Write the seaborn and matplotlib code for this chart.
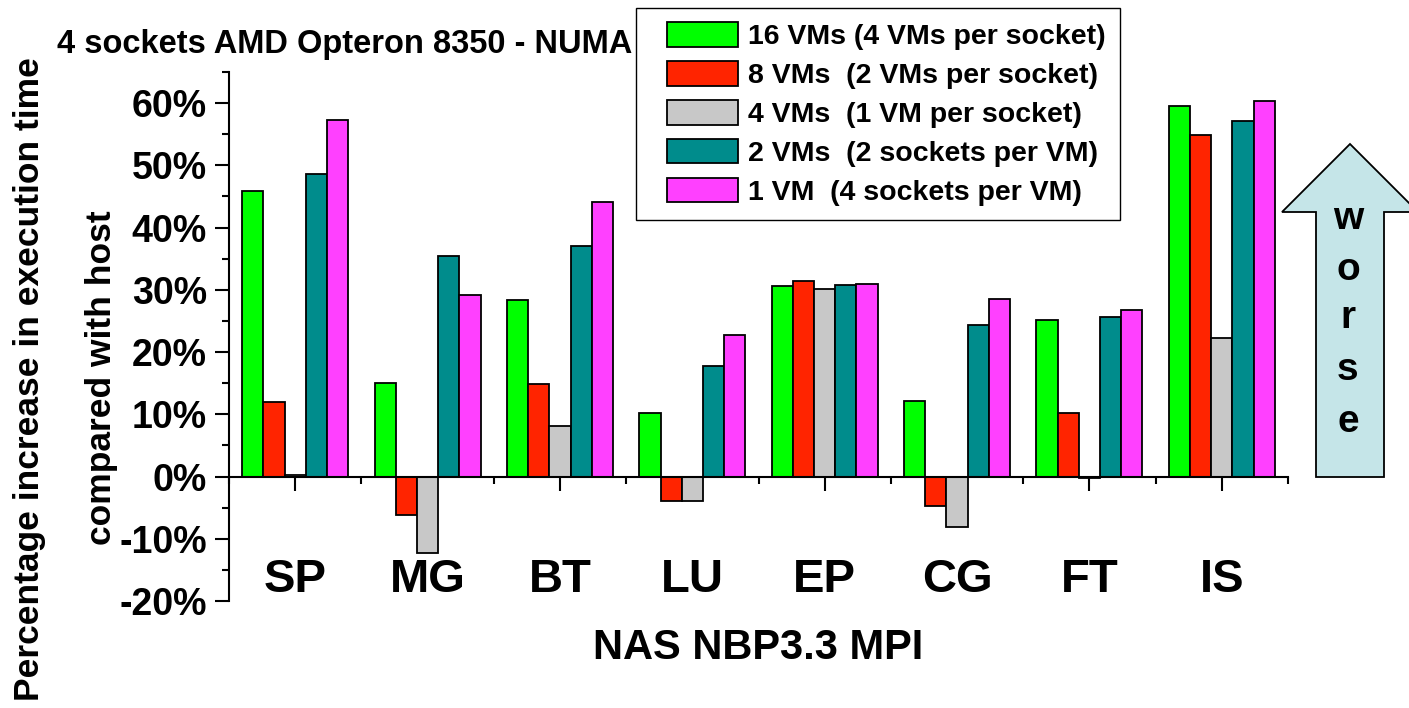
import matplotlib
matplotlib.use("Agg")
import matplotlib.pyplot as plt
import seaborn as sns
import pandas as pd
import numpy as np
from matplotlib.patches import Patch, Polygon, Rectangle
from matplotlib.legend_handler import HandlerPatch
from matplotlib.ticker import MultipleLocator, FuncFormatter

# ---------------- data ----------------
categories = ["SP", "MG", "BT", "LU", "EP", "CG", "FT", "IS"]
series_names = [
    "16 VMs (4 VMs per socket)",
    "8 VMs  (2 VMs per socket)",
    "4 VMs  (1 VM per socket)",
    "2 VMs  (2 sockets per VM)",
    "1 VM  (4 sockets per VM)",
]
vm16 = [45.8, 15.0, 28.3, 10.2, 30.6, 12.2, 25.2, 59.6]
vm8 = [12.0, -6.2, 14.9, -4.0, 31.4, -4.8, 10.2, 54.8]
vm4 = [0.3, -12.3, 8.1, -4.0, 30.2, -8.1, -0.2, 22.2]
vm2 = [48.6, 35.5, 37.1, 17.8, 30.8, 24.3, 25.7, 57.1]
vm1 = [57.3, 29.2, 44.1, 22.7, 31.0, 28.6, 26.8, 60.4]
colors = ["#00FF00", "#FF2400", "#C8C8C8", "#008C8C", "#FF40FF"]

rows = []
for name, vals in zip(series_names, [vm16, vm8, vm4, vm2, vm1]):
    for c, v in zip(categories, vals):
        rows.append({"bench": c, "config": name, "value": v})
df = pd.DataFrame(rows)

# ---------------- style ----------------
sns.set_theme(style="white")
plt.rcParams["font.family"] = ["Liberation Sans", "DejaVu Sans"]
plt.rcParams["font.weight"] = "bold"
for k in ["text.color", "axes.labelcolor", "xtick.color", "ytick.color"]:
    plt.rcParams[k] = "black"

W, H = 1409, 708
fig = plt.figure(figsize=(W / 100, H / 100), dpi=100)
ax = fig.add_axes([229 / W, 1 - 601 / H, 1059 / W, 529 / H])

sns.barplot(data=df, x="bench", y="value", hue="config", order=categories,
            hue_order=series_names, palette=colors, edgecolor="black",
            linewidth=1.3, width=0.8, saturation=1, legend=False, ax=ax)

ax.set_xlim(-0.5, len(categories) - 0.5)
ax.set_ylim(-20, 65)
ax.set_xlabel("")
ax.set_ylabel("")

# spines
for s in ["top", "right"]:
    ax.spines[s].set_visible(False)
ax.spines["bottom"].set_position(("data", 0))
for s in ["left", "bottom"]:
    ax.spines[s].set_color("black")
    ax.spines[s].set_linewidth(1.5)

# y ticks
ax.yaxis.set_major_locator(MultipleLocator(10))
ax.yaxis.set_minor_locator(MultipleLocator(5))
ax.yaxis.set_major_formatter(FuncFormatter(lambda v, p: f"{v:.0f}%"))
ax.tick_params(axis="y", which="major", direction="out", length=10, width=1.5,
               color="black", labelcolor="black", labelsize=27, pad=6, left=True)
ax.tick_params(axis="y", which="minor", direction="out", length=5, width=1.5,
               color="black", left=True)

# x ticks
ax.set_xticks(range(len(categories)))
ax.set_xticklabels(categories)
ax.set_xticks(np.arange(-0.5, len(categories), 1.0), minor=True)
ax.tick_params(axis="x", which="major", direction="out", length=10, width=1.5,
               color="black", labelcolor="black", labelsize=34, pad=49, bottom=True)
ax.tick_params(axis="x", which="minor", direction="out", length=5, width=1.5,
               color="black", bottom=True)
for lab in ax.get_xticklabels() + ax.get_yticklabels():
    lab.set_fontweight("bold")
ax.grid(False)

# texts
fig.text(57 / W, 1 - 45 / H, "4 sockets AMD Opteron 8350 - NUMA", fontsize=23.5,
         fontweight="bold", ha="left", va="center")
fig.text(30 / W, 1 - 379 / H, "Percentage increase in execution time", fontsize=25.5,
         fontweight="bold", rotation=90, ha="center", va="center")
fig.text(102 / W, 1 - 378 / H, "compared with host", fontsize=25.5,
         fontweight="bold", rotation=90, ha="center", va="center")
fig.text(758 / W, 1 - 648 / H, "NAS NBP3.3 MPI", fontsize=30,
         fontweight="bold", ha="center", va="center")


# legend with patches inset from the left edge
def inset_patch(legend, orig_handle, xdescent, ydescent, width, height, fontsize):
    extra = width * 17.0 / 88.0
    return Rectangle((-xdescent + extra, -ydescent), width - extra, height)


handles = [Patch(facecolor=c, edgecolor="black", linewidth=1.3, label=n)
           for c, n in zip(colors, series_names)]
leg = fig.legend(handles=handles, loc="upper left",
                 bbox_to_anchor=(636 / W, 1 - 8 / H), bbox_transform=fig.transFigure,
                 prop={"weight": "bold", "size": 20.5},
                 frameon=True, fancybox=False, edgecolor="black", framealpha=1,
                 borderpad=0.5, handlelength=3.09, handleheight=0.95,
                 handletextpad=0.35, labelspacing=0.38, borderaxespad=0,
                 handler_map={Patch: HandlerPatch(patch_func=inset_patch)})
leg.get_frame().set_linewidth(1.0)
for t in leg.get_texts():
    t.set_color("black")

# "worse" arrow
pts = [(1350, 144), (1418, 212), (1384, 212), (1384, 477), (1316, 477),
       (1316, 212), (1282, 212)]
poly = Polygon([(x / W, 1 - y / H) for x, y in pts], closed=True,
               facecolor="#C5E5E8", edgecolor="black", linewidth=1.3,
               transform=fig.transFigure)
fig.patches.append(poly)
for ch, yy in zip("worse", [219, 270, 318, 370, 422]):
    fig.text(1348 / W, 1 - yy / H, ch, fontsize=28, fontweight="bold",
             ha="center", va="center", color="black")

fig.savefig("out.png", dpi=100)
